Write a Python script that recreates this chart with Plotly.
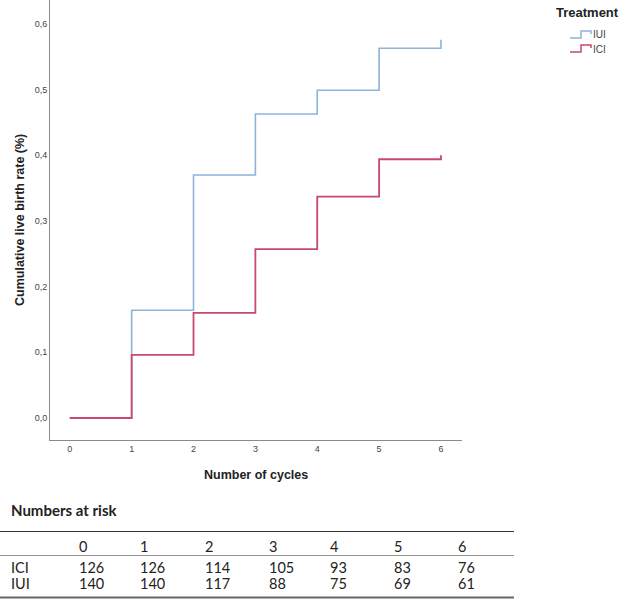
import plotly.graph_objects as go

# ---- data ----
cycles = [0, 1, 2, 3, 4, 5, 6]
iui_rate = [0.0, 0.164, 0.370, 0.463, 0.499, 0.563, 0.576]
ici_rate = [0.0, 0.096, 0.160, 0.257, 0.337, 0.394, 0.400]
y_ticks = [0.0, 0.1, 0.2, 0.3, 0.4, 0.5, 0.6]

risk_cols = ["0", "1", "2", "3", "4", "5", "6"]
risk_groups = ["ICI", "IUI"]
risk_ici = [126, 126, 114, 105, 93, 83, 76]
risk_iui = [140, 140, 117, 88, 75, 69, 61]

IUI_COLOR = "#8db3d8"
ICI_COLOR = "#c9486c"

W, H = 621, 602
def px(x):
    return x / W
def py(y):
    return 1 - y / H

fig = go.Figure()
fig.add_trace(go.Scatter(x=cycles, y=iui_rate, mode="lines", name="IUI",
                         line=dict(color=IUI_COLOR, width=1.6, shape="hv"),
                         showlegend=False))
fig.add_trace(go.Scatter(x=cycles, y=ici_rate, mode="lines", name="ICI",
                         line=dict(color=ICI_COLOR, width=1.8, shape="hv"),
                         showlegend=False))

axis_font = dict(family="Liberation Sans, Arial, sans-serif", size=9, color="#444")
fig.update_layout(
    width=W, height=H,
    margin=dict(l=0, r=0, t=0, b=0),
    paper_bgcolor="white", plot_bgcolor="white",
    separators=",.",
    xaxis=dict(domain=[px(50), px(462)], range=[-0.32, 6.34],
               tickvals=cycles, showgrid=False, zeroline=False,
               showline=True, linecolor="#8a8a8a", linewidth=1,
               ticks="", tickfont=axis_font),
    yaxis=dict(domain=[py(440), 1], range=[-0.0335, 0.6365],
               tickvals=y_ticks, tickformat=".1f", showgrid=False,
               zeroline=False, showline=True, linecolor="#8a8a8a",
               linewidth=1, ticks="", tickfont=axis_font),
)

P = dict(xref="paper", yref="paper", showarrow=False, yanchor="middle")
title_font = dict(family="Liberation Sans, Arial, sans-serif", size=12.5, color="#222")
anns = [
    dict(x=px(20), y=py(220), text="<b>Cumulative live birth rate (%)</b>",
         textangle=-90, xanchor="center", font=title_font, **P),
    dict(x=px(256), y=py(475), text="<b>Number of cycles</b>", xanchor="center",
         font=title_font, **P),
    dict(x=px(554), y=py(13), text="<b>Treatment</b>", xanchor="left",
         font=dict(family="Liberation Sans, Arial, sans-serif", size=13, color="#222"), **P),
    dict(x=px(591), y=py(35), text="IUI", xanchor="left",
         font=dict(family="Liberation Sans, Arial, sans-serif", size=10, color="#444"), **P),
    dict(x=px(591), y=py(49), text="ICI", xanchor="left",
         font=dict(family="Liberation Sans, Arial, sans-serif", size=10, color="#444"), **P),
]

shapes = []
# legend step icons
for yc, col in [(35, IUI_COLOR), (49, ICI_COLOR)]:
    path = "M{},{} L{},{} L{},{} L{},{} L{},{}".format(
        px(570), py(yc + 3), px(581), py(yc + 3), px(581), py(yc - 4),
        px(591), py(yc - 4), px(591), py(yc - 1))
    shapes.append(dict(type="path", xref="paper", yref="paper", path=path,
                       line=dict(color=col, width=1.5)))

# numbers at risk table
tfont = dict(family="Lato, Open Sans, sans-serif", size=14.5, color="#222")
anns.append(dict(x=px(9), y=py(510), text="<b>Numbers at risk</b>", xanchor="left",
                 font=dict(family="Lato, Open Sans, sans-serif", size=15, color="#222"), **P))
col_x = [77, 138, 203, 267, 328, 392, 456]
for cx, lab in zip(col_x, risk_cols):
    anns.append(dict(x=px(cx), y=py(546), text=lab, xanchor="left", font=tfont, **P))
for ry, grp, vals in [(567, risk_groups[0], risk_ici), (583, risk_groups[1], risk_iui)]:
    anns.append(dict(x=px(9), y=py(ry), text=grp, xanchor="left", font=tfont, **P))
    for cx, v in zip(col_x, vals):
        anns.append(dict(x=px(cx), y=py(ry), text=str(v), xanchor="left", font=tfont, **P))

for yy, wdt, col in [(531.5, 1.2, "#333"), (555.5, 0.8, "#777"), (597.5, 2.2, "#666")]:
    shapes.append(dict(type="line", xref="paper", yref="paper",
                       x0=0, x1=px(514), y0=py(yy), y1=py(yy),
                       line=dict(color=col, width=wdt)))

fig.update_layout(annotations=anns, shapes=shapes)
fig.write_html("out.html", config={"displayModeBar": False},
               post_script="document.body.style.margin='0';document.body.style.overflow='hidden';")
